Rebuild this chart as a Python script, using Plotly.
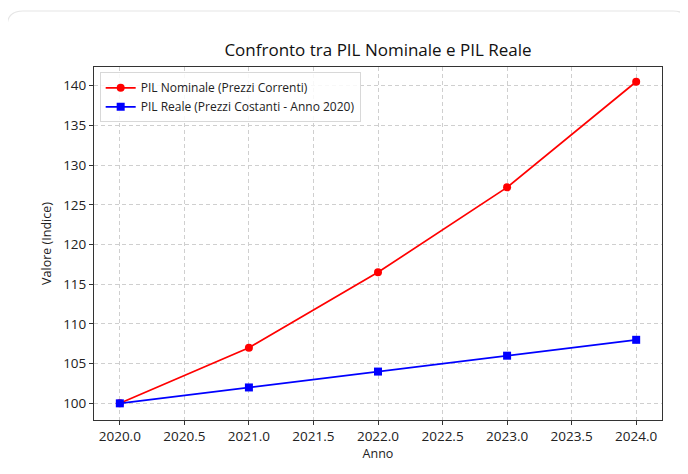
import plotly.graph_objects as go

years = [2020, 2021, 2022, 2023, 2024]
pil_nominale = [100.0, 107.0, 116.5, 127.2, 140.5]
pil_reale = [100.0, 102.0, 104.0, 106.0, 108.0]
x_ticks = [2020.0, 2020.5, 2021.0, 2021.5, 2022.0, 2022.5, 2023.0, 2023.5, 2024.0]
y_ticks = [100, 105, 110, 115, 120, 125, 130, 135, 140]

FONT = "Open Sans"

fig = go.Figure()
fig.add_trace(go.Scatter(
    x=years, y=pil_nominale, mode="lines+markers",
    name="PIL Nominale (Prezzi Correnti)",
    line=dict(color="#ff0000", width=1.7),
    marker=dict(symbol="circle", size=8, color="#ff0000"),
))
fig.add_trace(go.Scatter(
    x=years, y=pil_reale, mode="lines+markers",
    name="PIL Reale (Prezzi Costanti - Anno 2020)",
    line=dict(color="#0000ff", width=1.7),
    marker=dict(symbol="square", size=8, color="#0000ff"),
))

OFF = 8  # page body margin
W, H = 680, 466
# target plot area in window pixels: x 94..662, y 67..420
L, R, T, B = 94 - OFF, 26, 67 - OFF, 54
pw, ph = W - L - R, H - T - B

def px_x(p):
    return (p - OFF - L) / pw

def px_y(p):
    return (H - B - (p - OFF)) / ph

# rounded card outline (window pixel coords)
x0, x1, y0, y1, r = 7, 689, 11, 520, 16
path = (
    f"M {px_x(x0)},{px_y(y1)} L {px_x(x0)},{px_y(y0 + r)} "
    f"Q {px_x(x0)},{px_y(y0)} {px_x(x0 + r)},{px_y(y0)} "
    f"L {px_x(x1 - r)},{px_y(y0)} "
    f"Q {px_x(x1)},{px_y(y0)} {px_x(x1)},{px_y(y0 + r)} "
    f"L {px_x(x1)},{px_y(y1)}"
)

axis_common = dict(
    showline=True, linecolor="#333333", linewidth=1, mirror=True,
    ticks="outside", ticklen=4, tickcolor="#333333", tickwidth=1,
    showgrid=True, gridcolor="#cfcfcf", griddash="4px,3px", gridwidth=1,
    zeroline=False,
    tickfont=dict(family=FONT, size=13.5, color="#222222"),
)

fig.update_layout(
    width=W, height=H,
    margin=dict(l=L, r=R, t=T, b=B),
    paper_bgcolor="white", plot_bgcolor="white",
    title=dict(
        text="Confronto tra PIL Nominale e PIL Reale",
        x=(L + pw / 2) / W, xanchor="center",
        y=1 - (50 - OFF) / H, yanchor="middle", yref="container",
        font=dict(family=FONT, size=17, color="#111111"),
    ),
    xaxis=dict(
        **axis_common,
        range=[2019.8, 2024.2],
        tickvals=x_ticks,
        ticktext=[f"{v:.1f}" for v in x_ticks],
        title=dict(text="Anno", font=dict(family=FONT, size=12.5, color="#222222"), standoff=4),
    ),
    yaxis=dict(
        **axis_common,
        range=[97.9, 142.36],
        tickvals=y_ticks,
        title=dict(text="Valore (Indice)", font=dict(family=FONT, size=12.5, color="#222222"), standoff=8),
    ),
    legend=dict(
        x=0.01, y=0.985, xanchor="left", yanchor="top",
        bgcolor="rgba(255,255,255,0.85)", bordercolor="#d8d8d8", borderwidth=1,
        font=dict(family=FONT, size=12, color="#222222"),
        tracegroupgap=0, itemwidth=30,
    ),
    shapes=[dict(
        type="path", path=path, xref="paper", yref="paper",
        line=dict(color="#e6e6e6", width=1.2), layer="below",
    )],
    showlegend=True,
)

fig.write_html("out.html")
